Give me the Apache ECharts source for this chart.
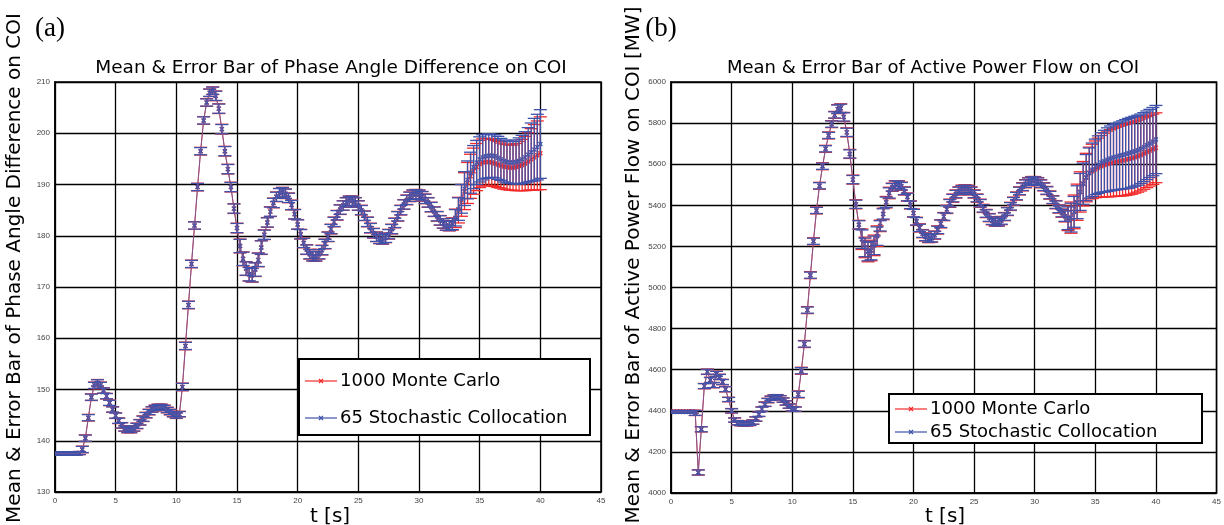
<!DOCTYPE html>
<html><head><meta charset="utf-8">
<script src="https://cdn.jsdelivr.net/npm/echarts@6/dist/echarts.min.js"></script>
<style>html,body{margin:0;padding:0;background:#fff}#c{width:1224px;height:525px}</style>
</head><body><div id="c"></div>
<script>
// ---- time samples [s]
const time = [
0,0.25,0.5,0.75,1,1.25,1.5,1.75,
2,2.25,2.5,2.75,3,3.25,3.5,3.75,
4,4.25,4.5,4.75,5,5.25,5.5,5.75,
6,6.25,6.5,6.75,7,7.25,7.5,7.75,
8,8.25,8.5,8.75,9,9.25,9.5,9.75,
10,10.25,10.5,10.75,11,11.25,11.5,11.75,
12,12.25,12.5,12.75,13,13.25,13.5,13.75,
14,14.25,14.5,14.75,15,15.25,15.5,15.75,
16,16.25,16.5,16.75,17,17.25,17.5,17.75,
18,18.25,18.5,18.75,19,19.25,19.5,19.75,
20,20.25,20.5,20.75,21,21.25,21.5,21.75,
22,22.25,22.5,22.75,23,23.25,23.5,23.75,
24,24.25,24.5,24.75,25,25.25,25.5,25.75,
26,26.25,26.5,26.75,27,27.25,27.5,27.75,
28,28.25,28.5,28.75,29,29.25,29.5,29.75,
30,30.25,30.5,30.75,31,31.25,31.5,31.75,
32,32.25,32.5,32.75,33,33.25,33.5,33.75,
34,34.25,34.5,34.75,35,35.25,35.5,35.75,
36,36.25,36.5,36.75,37,37.25,37.5,37.75,
38,38.25,38.5,38.75,39,39.25,39.5,39.75,
40];

// ---- (a) phase angle difference: 65 Stochastic Collocation
const angleMeanSC = [
137.5,137.5,137.5,137.5,137.5,137.5,137.5,137.5,
137.6,138.3,140.5,144.5,148.5,150.8,151.3,150.8,
149.8,148.7,147.4,146.1,144.9,143.9,143.0,142.4,
142.1,142.1,142.4,142.9,143.6,144.3,145.0,145.6,
146.1,146.4,146.6,146.6,146.4,146.0,145.6,145.2,
144.9,145.2,150.5,158.5,166.5,174.5,182.0,189.5,
196.5,202.5,206.0,207.9,208.3,207.3,204.8,200.8,
196.5,193.0,189.5,185.3,181.5,178.0,175.5,173.6,
172.5,172.3,173.4,175.3,177.7,180.2,182.6,184.7,
186.4,187.6,188.3,188.5,188.2,187.4,186.0,184.2,
182.2,180.3,178.6,177.3,176.4,176.0,176.0,176.4,
177.2,178.4,179.8,181.3,182.7,184.0,185.1,185.9,
186.5,186.8,186.8,186.5,185.9,185.0,183.9,182.7,
181.5,180.5,179.8,179.4,179.3,179.6,180.3,181.3,
182.5,183.8,185.0,186.1,187.0,187.6,188.0,188.1,
188.0,187.7,187.2,186.5,185.6,184.7,183.8,183.0,
182.4,182.0,181.9,182.3,183.5,185.2,187.2,189.2,
190.9,192.3,193.4,194.3,194.9,195.3,195.5,195.6,
195.6,195.5,195.2,194.9,194.6,194.4,194.3,194.3,
194.4,194.6,194.9,195.3,195.8,196.3,196.8,197.3,
197.9];
const angleStdSC = [
0.3,0.3,0.3,0.3,0.3,0.3,0.3,0.3,
0.3,0.6,0.6,0.6,0.6,0.6,0.6,0.6,
0.5,0.5,0.5,0.5,0.5,0.5,0.5,0.5,
0.5,0.5,0.5,0.5,0.5,0.5,0.5,0.5,
0.5,0.5,0.5,0.5,0.5,0.5,0.5,0.5,
0.5,0.5,0.7,0.7,0.7,0.7,0.7,0.7,
0.7,0.7,0.7,0.7,0.7,0.9,0.9,0.9,
0.9,0.9,0.9,0.9,0.9,1.3,1.3,1.3,
1.3,1.3,1.3,1.3,1.3,0.9,0.9,0.9,
0.9,0.9,0.9,0.9,0.9,0.9,0.9,0.9,
0.9,0.9,0.9,0.9,0.9,0.9,0.9,0.9,
0.9,0.9,0.9,0.9,0.9,0.9,0.9,0.9,
0.9,0.9,0.9,0.9,0.9,0.9,0.9,0.9,
0.9,0.9,0.9,0.9,0.9,0.9,0.9,0.9,
0.9,0.9,0.9,0.9,0.9,0.9,0.9,0.9,
0.9,0.9,0.9,0.9,0.9,0.9,0.9,0.9,
0.9,0.9,0.9,1.1,1.6,2.2,2.8,3.3,
3.7,4.0,4.2,4.3,4.4,4.4,4.3,4.3,
4.2,4.2,4.2,4.1,4.1,4.1,4.1,4.1,
4.3,4.5,4.7,5.0,5.3,5.7,6.1,6.4,
6.7];
// ---- (a) phase angle difference: 1000 Monte Carlo
const angleMeanMC = [
137.5,137.5,137.5,137.5,137.5,137.5,137.5,137.5,
137.6,138.3,140.5,144.5,148.5,150.8,151.3,150.8,
149.8,148.7,147.4,146.1,144.9,143.9,143.0,142.4,
142.1,142.1,142.4,142.9,143.6,144.3,145.0,145.6,
146.1,146.4,146.6,146.6,146.4,146.0,145.6,145.2,
144.9,145.2,150.5,158.5,166.5,174.5,182.0,189.5,
196.5,202.5,206.0,207.9,208.3,207.3,204.8,200.8,
196.5,193.0,189.5,185.3,181.5,178.0,175.5,173.6,
172.5,172.3,173.4,175.3,177.7,180.2,182.6,184.7,
186.4,187.6,188.3,188.5,188.2,187.4,186.0,184.2,
182.2,180.3,178.6,177.3,176.4,176.0,176.0,176.4,
177.2,178.4,179.8,181.3,182.7,184.0,185.1,185.9,
186.5,186.8,186.8,186.5,185.9,185.0,183.9,182.7,
181.5,180.5,179.8,179.4,179.3,179.6,180.3,181.3,
182.5,183.8,185.0,186.1,187.0,187.6,188.0,188.1,
188.0,187.7,187.2,186.5,185.6,184.7,183.8,183.0,
182.4,182.0,181.9,182.3,183.4,185.0,186.9,188.7,
190.3,191.6,192.6,193.4,194.0,194.3,194.4,194.4,
194.3,194.1,193.9,193.7,193.5,193.4,193.3,193.3,
193.4,193.6,193.8,194.1,194.5,194.9,195.3,195.7,
196.1];
const angleStdMC = [
0.3,0.3,0.3,0.3,0.3,0.3,0.3,0.3,
0.3,0.65,0.65,0.65,0.65,0.65,0.65,0.65,
0.55,0.55,0.55,0.55,0.55,0.55,0.55,0.55,
0.55,0.55,0.55,0.55,0.55,0.55,0.55,0.55,
0.55,0.55,0.55,0.55,0.55,0.55,0.55,0.55,
0.55,0.55,0.75,0.75,0.75,0.75,0.75,0.75,
0.75,0.75,0.75,0.75,0.75,0.95,0.95,0.95,
0.95,0.95,0.95,0.95,0.95,1.35,1.35,1.35,
1.35,1.35,1.35,1.35,1.35,0.95,0.95,0.95,
0.95,0.95,0.95,0.95,0.95,0.95,0.95,0.95,
0.95,0.95,0.95,0.95,0.95,0.95,0.95,0.95,
0.95,0.95,0.95,0.95,0.95,0.95,0.95,0.95,
0.95,0.95,0.95,0.95,0.95,0.95,0.95,0.95,
0.95,0.95,0.95,0.95,0.95,0.95,0.95,0.95,
0.95,0.95,0.95,0.95,0.95,0.95,0.95,0.95,
0.95,0.95,0.95,0.95,0.95,0.95,0.95,0.95,
0.95,0.95,0.95,1.2,1.8,2.5,3.1,3.6,
4.0,4.3,4.5,4.6,4.6,4.6,4.6,4.6,
4.5,4.5,4.5,4.4,4.4,4.4,4.4,4.4,
4.6,4.8,5.0,5.3,5.6,6.0,6.4,6.7,
7.1];

// ---- (b) active power flow [MW]: 65 Stochastic Collocation
const powerMeanSC = [
4395,4395,4395,4395,4395,4395,4395,4395,
4390,4100,4310,4520,4590,4550,4525,4580,
4565,4540,4505,4455,4400,4355,4342,4338,
4337,4337,4339,4345,4360,4383,4408,4432,
4450,4461,4467,4468,4463,4452,4438,4423,
4410,4408,4480,4595,4725,4890,5060,5225,
5375,5495,5590,5675,5740,5795,5840,5868,
5872,5830,5755,5650,5525,5405,5305,5235,
5195,5175,5180,5205,5250,5300,5358,5415,
5460,5488,5500,5500,5493,5470,5440,5402,
5362,5322,5290,5262,5246,5238,5240,5255,
5280,5310,5345,5380,5410,5435,5455,5470,
5478,5480,5478,5470,5455,5435,5410,5385,
5360,5340,5325,5318,5318,5326,5345,5370,
5395,5420,5445,5470,5490,5505,5515,5520,
5520,5515,5505,5490,5472,5450,5427,5403,
5382,5362,5347,5337,5340,5368,5415,5465,
5505,5535,5557,5573,5587,5598,5608,5615,
5622,5628,5633,5637,5641,5645,5649,5653,
5658,5663,5668,5675,5683,5692,5701,5710,
5720];
const powerStdSC = [
6,6,6,6,6,6,6,6,
12,12,12,12,12,12,12,12,
12,12,12,10,10,10,10,10,
10,10,10,10,10,10,10,10,
10,10,10,10,10,10,10,10,
10,10,15,15,15,15,15,15,
15,15,15,15,15,15,15,20,
20,20,20,20,20,20,20,45,
45,45,45,45,45,25,25,25,
25,18,18,18,18,18,18,18,
18,18,18,18,18,18,18,18,
18,18,18,18,18,18,18,18,
18,18,18,18,18,18,18,18,
18,18,18,18,18,18,18,18,
18,18,18,18,18,18,18,18,
18,18,18,18,18,18,18,18,
18,18,25,55,70,75,80,90,
100,112,122,130,135,140,145,150,
155,158,160,162,164,166,168,170,
170,170,170,169,168,167,166,166,
166];
// ---- (b) active power flow [MW]: 1000 Monte Carlo
const powerMeanMC = [
4395,4395,4395,4395,4395,4395,4395,4395,
4390,4100,4310,4520,4590,4550,4525,4580,
4565,4540,4505,4455,4400,4355,4342,4338,
4337,4337,4339,4345,4360,4383,4408,4432,
4450,4461,4467,4468,4463,4452,4438,4423,
4410,4408,4480,4595,4725,4890,5060,5225,
5375,5495,5590,5675,5740,5795,5840,5868,
5872,5830,5755,5650,5525,5405,5305,5235,
5195,5175,5180,5205,5250,5300,5358,5415,
5460,5488,5500,5500,5493,5470,5440,5402,
5362,5322,5290,5262,5246,5238,5240,5255,
5280,5310,5345,5380,5410,5435,5455,5470,
5478,5480,5478,5470,5455,5435,5410,5385,
5360,5340,5325,5318,5318,5326,5345,5370,
5395,5420,5445,5470,5490,5505,5515,5520,
5520,5515,5505,5490,5472,5450,5427,5403,
5382,5362,5347,5337,5340,5368,5415,5465,
5505,5535,5557,5565,5575,5583,5590,5596,
5601,5605,5609,5612,5615,5618,5621,5625,
5629,5634,5639,5645,5652,5659,5666,5673,
5680];
const powerStdMC = [
7,7,7,7,7,7,7,7,
13,13,13,13,13,13,13,13,
13,13,13,11,11,11,11,11,
11,11,11,11,11,11,11,11,
11,11,11,11,11,11,11,11,
11,11,17,17,17,17,17,17,
17,17,17,17,17,17,17,22,
22,22,22,22,22,22,22,50,
50,50,50,50,50,28,28,28,
28,20,20,20,20,20,20,20,
20,20,20,20,20,20,20,20,
20,20,20,20,20,20,20,20,
20,20,20,20,20,20,20,20,
20,20,20,20,20,20,20,20,
20,20,20,20,20,20,20,20,
20,20,20,20,20,20,20,20,
20,20,28,60,76,82,88,98,
108,118,126,132,138,144,150,155,
160,163,166,168,170,172,173,174,
175,175,175,175,174,173,172,171,
170];

// ---- axis ranges / texts
const xRange = {min: 0, max: 45, interval: 5};
const angleRange = {min: 130, max: 210, interval: 10};
const powerRange = {min: 4000, max: 6000, interval: 200};
const seriesNames = ['1000 Monte Carlo', '65 Stochastic Collocation'];
const titles = ['Mean & Error Bar of Phase Angle Difference on COI', 'Mean & Error Bar of Active Power Flow on COI'];
const yNames = ['Mean & Error Bar of Phase Angle Difference on COI', 'Mean & Error Bar of Active Power Flow on COI [MW]'];
const xName = 't [s]';
const panelLabels = ['(a)', '(b)'];

const RED = '#f42a2a';
const BLUE = '#3e52ab';
const FONT = '"DejaVu Sans", Verdana, sans-serif';

function bars(mean, std) { return time.map((t, i) => [t, mean[i] - std[i], mean[i] + std[i], mean[i]]); }
function pts(mean) { return time.map((t, i) => [t, mean[i]]); }
function errRender(color, cap) {
  return function (params, api) {
    const t = api.value(0);
    const a = api.coord([t, api.value(1)]);
    const b = api.coord([t, api.value(2)]);
    const m = api.coord([t, api.value(3)]);
    const st = {stroke: color, lineWidth: 1.3, fill: null};
    return {type: 'group', children: [
      {type: 'line', shape: {x1: a[0], y1: a[1], x2: b[0], y2: b[1]}, style: st},
      {type: 'line', shape: {x1: a[0] - cap, y1: a[1], x2: a[0] + cap, y2: a[1]}, style: st},
      {type: 'line', shape: {x1: b[0] - cap, y1: b[1], x2: b[0] + cap, y2: b[1]}, style: st},
      {type: 'line', shape: {x1: m[0] - 2, y1: m[1] - 2, x2: m[0] + 2, y2: m[1] + 2}, style: st},
      {type: 'line', shape: {x1: m[0] - 2, y1: m[1] + 2, x2: m[0] + 2, y2: m[1] - 2}, style: st}
    ]};
  };
}

const grids = [
  {left: 55, top: 82, width: 546, height: 410, show: true, borderColor: '#000', borderWidth: 1.5},
  {left: 671, top: 82, width: 546, height: 411, show: true, borderColor: '#000', borderWidth: 1.5}
];
const axisLabel = {fontSize: 8, color: '#444', fontFamily: '"Liberation Sans", Arial, sans-serif', formatter: v => String(v)};
const splitLine = {show: true, lineStyle: {color: '#000', width: 1.3}};

const xAxis = [0, 1].map(i => Object.assign({gridIndex: i, type: 'value',
  axisLine: {show: true, lineStyle: {color: '#000', width: 1.5}}, axisTick: {show: false},
  axisLabel: Object.assign({margin: 5}, axisLabel), splitLine: splitLine}, xRange));
const yAxis = [angleRange, powerRange].map((r, i) => Object.assign({gridIndex: i, type: 'value',
  axisLine: {show: true, lineStyle: {color: '#000', width: 1.5}}, axisTick: {show: false},
  axisLabel: Object.assign({margin: 5}, axisLabel), splitLine: splitLine}, r));

function seriesFor(idx, meanMC, stdMC, meanSC, stdSC) {
  return [
    {type: 'custom', name: seriesNames[0], xAxisIndex: idx, yAxisIndex: idx, renderItem: errRender(RED, 6.5),
      data: bars(meanMC, stdMC), encode: {x: 0, y: [1, 2]}, z: 2, silent: true, clip: true},
    {type: 'line', name: seriesNames[0], xAxisIndex: idx, yAxisIndex: idx, data: pts(meanMC), showSymbol: false,
      lineStyle: {color: RED, width: 1}, z: 3, silent: true},
    {type: 'custom', name: seriesNames[1], xAxisIndex: idx, yAxisIndex: idx, renderItem: errRender(BLUE, 6.5),
      data: bars(meanSC, stdSC), encode: {x: 0, y: [1, 2]}, z: 4, silent: true, clip: true},
    {type: 'line', name: seriesNames[1], xAxisIndex: idx, yAxisIndex: idx, data: pts(meanSC), showSymbol: false,
      lineStyle: {color: '#6a5aa0', width: 1, opacity: 0.85}, z: 5, silent: true}
  ];
}

function txt(x, y, text, size, extra) {
  return Object.assign({type: 'text', x: x, y: y, z: 100,
    style: {text: text, font: size + 'px ' + FONT, fill: '#000', align: 'center', verticalAlign: 'middle'}}, extra || {});
}
function legendBox(x, y, w, h, rows) {
  const els = [{type: 'rect', z: 100, shape: {x: x, y: y, width: w, height: h},
    style: {fill: '#fff', stroke: '#000', lineWidth: 2}}];
  rows.forEach(r => {
    els.push({type: 'line', z: 101, shape: {x1: r.lx, y1: r.y, x2: r.lx + 32, y2: r.y}, style: {stroke: r.color, lineWidth: 1.2}});
    els.push({type: 'line', z: 101, shape: {x1: r.lx + 14, y1: r.y - 2, x2: r.lx + 18, y2: r.y + 2}, style: {stroke: r.color, lineWidth: 1.2}});
    els.push({type: 'line', z: 101, shape: {x1: r.lx + 14, y1: r.y + 2, x2: r.lx + 18, y2: r.y - 2}, style: {stroke: r.color, lineWidth: 1.2}});
    els.push({type: 'text', z: 101, x: r.lx + 35, y: r.y,
      style: {text: r.text, font: '18px ' + FONT, fill: '#000', align: 'left', verticalAlign: 'middle'}});
  });
  return els;
}
const serifFont = '27px "Liberation Serif", "Times New Roman", serif';

const graphic = [
  {type: 'text', x: 50, y: 29, z: 100, style: {text: panelLabels[0], font: serifFont, fill: '#000', align: 'center', verticalAlign: 'middle'}},
  {type: 'text', x: 661, y: 29, z: 100, style: {text: panelLabels[1], font: serifFont, fill: '#000', align: 'center', verticalAlign: 'middle'}},
  txt(331, 68, titles[0], 18.5),
  txt(933, 68, titles[1], 18),
  txt(330, 517, xName, 20),
  txt(945, 517, xName, 20),
  txt(15, 268, yNames[0], 20, {rotation: Math.PI / 2}),
  txt(634, 265, yNames[1], 20, {rotation: Math.PI / 2})
].concat(
  legendBox(299, 359, 291, 76, [
    {lx: 305, y: 381, color: RED, text: seriesNames[0]},
    {lx: 305, y: 418, color: BLUE, text: seriesNames[1]}
  ]),
  legendBox(889, 394, 313, 49, [
    {lx: 895, y: 409, color: RED, text: seriesNames[0]},
    {lx: 895, y: 432, color: BLUE, text: seriesNames[1]}
  ])
);

const chart = echarts.init(document.getElementById('c'));
chart.setOption({
  animation: false,
  backgroundColor: '#fff',
  grid: grids,
  xAxis: xAxis,
  yAxis: yAxis,
  series: seriesFor(0, angleMeanMC, angleStdMC, angleMeanSC, angleStdSC)
    .concat(seriesFor(1, powerMeanMC, powerStdMC, powerMeanSC, powerStdSC)),
  graphic: graphic
});
</script>
</body></html>
